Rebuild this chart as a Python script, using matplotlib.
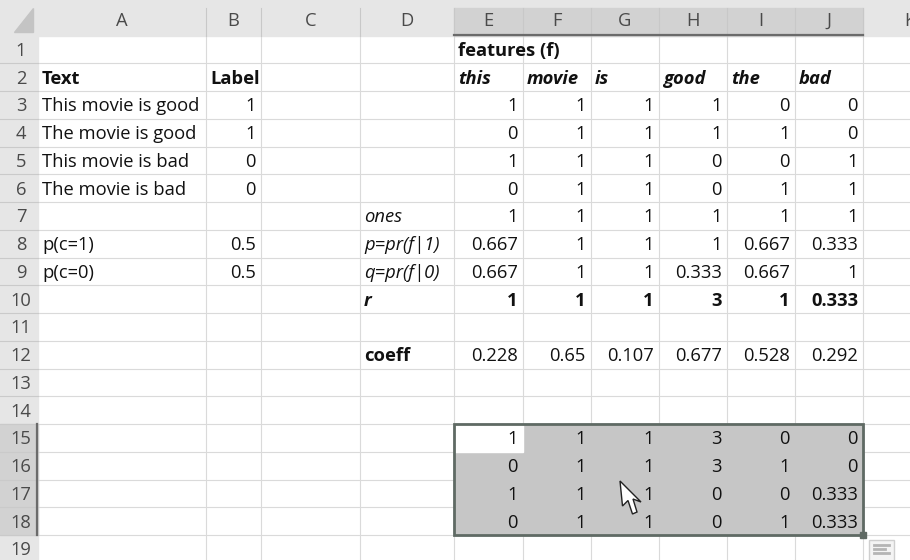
import matplotlib.pyplot as plt
from matplotlib.patches import Rectangle, Polygon

plt.rcParams['font.family'] = ['Open Sans', 'DejaVu Sans']

# sheet contents
col_letters = ["A", "B", "C", "D", "E", "F", "G", "H", "I", "J", "K"]
texts = ["This movie is good", "The movie is good", "This movie is bad", "The movie is bad"]
labels = [1, 1, 0, 0]
features = ["this", "movie", "is", "good", "the", "bad"]
doc_term = [
    [1, 1, 1, 1, 0, 0],
    [0, 1, 1, 1, 1, 0],
    [1, 1, 1, 0, 0, 1],
    [0, 1, 1, 0, 1, 1],
]
prior_names = ["p(c=1)", "p(c=0)"]
priors = [0.5, 0.5]
ones = [1, 1, 1, 1, 1, 1]
p_vals = [0.667, 1, 1, 1, 0.667, 0.333]
q_vals = [0.667, 1, 1, 0.333, 0.667, 1]
r_vals = [1, 1, 1, 3, 1, 0.333]
coeff = [0.228, 0.65, 0.107, 0.677, 0.528, 0.292]
scaled = [
    [1, 1, 1, 3, 0, 0],
    [0, 1, 1, 3, 1, 0],
    [1, 1, 1, 0, 0, 0.333],
    [0, 1, 1, 0, 1, 0.333],
]

# layout in pixels
col_edges = [38, 206, 261, 360, 454, 523, 591, 659, 727, 795, 863, 960]
row_top = 35.5
row_h = 27.75
n_rows = 19
fs = 13.2

fig = plt.figure(figsize=(9.1, 5.6), dpi=100)
ax = fig.add_axes([0, 0, 1, 1])
ax.set_xlim(0, 910)
ax.set_ylim(560, 0)
ax.axis('off')


def ry(r):
    return row_top + (r - 1) * row_h


def rc(r):
    return ry(r) + row_h / 2 + 1.5


def put(col, row, s, align='left', **kw):
    if align == 'left':
        x = col_edges[col] + 4
    else:
        x = col_edges[col + 1] - 5
    ax.text(x, rc(row), s, ha=align, va='center', fontsize=fs, color='#111111', **kw)


def fmt(v):
    return f"{v:g}"


# header backgrounds
ax.add_patch(Rectangle((0, 0), 910, row_top, color='#e6e6e6', zorder=0))
ax.add_patch(Rectangle((0, 0), col_edges[0], 560, color='#e6e6e6', zorder=0))
ax.add_patch(Rectangle((col_edges[4], 8), col_edges[10] - col_edges[4], row_top - 8,
                       color='#d2d2d2', zorder=1))
ax.add_patch(Rectangle((0, ry(15)), col_edges[0], 4 * row_h, color='#d2d2d2', zorder=1))
ax.plot([col_edges[4], col_edges[10]], [row_top - 1, row_top - 1], color='#6b6b6b', lw=1.6, zorder=3)
ax.plot([col_edges[0] - 1, col_edges[0] - 1], [ry(15), ry(19)], color='#6b6b6b', lw=1.6, zorder=3)
ax.add_patch(Polygon([(33, 8), (33, 32), (14, 32)], color='#c4c4c4', zorder=2))

# grid
for x in col_edges[1:]:
    ax.plot([x, x], [row_top, 560], color='#dadada', lw=0.8, zorder=1)
    ax.plot([x, x], [8, row_top], color='#c8c8c8', lw=0.8, zorder=2)
for r in range(1, n_rows + 1):
    y = ry(r) + row_h
    ax.plot([col_edges[0], 910], [y, y], color='#dadada', lw=0.8, zorder=1)
    ax.plot([0, col_edges[0]], [y, y], color='#cacaca', lw=0.8, zorder=2)

for i, letter in enumerate(col_letters[:-1]):
    cx = (col_edges[i] + col_edges[i + 1]) / 2
    ax.text(cx, 21, letter, ha='center', va='center', fontsize=fs, color='#4a4a4a', zorder=4)
# column K is only partly on screen
ax.text(904, 21, col_letters[-1], ha='left', va='center', fontsize=fs, color='#4a4a4a',
        zorder=4, clip_on=True)
for r in range(1, n_rows + 1):
    ax.text(21, rc(r), str(r), ha='center', va='center', fontsize=fs, color='#4a4a4a', zorder=4)

# selection block
sel_x0, sel_x1 = col_edges[4], col_edges[10]
ax.add_patch(Rectangle((sel_x0, ry(15)), sel_x1 - sel_x0, 4 * row_h, color='#c6c6c6', zorder=2))
ax.add_patch(Rectangle((sel_x0, ry(15)), col_edges[5] - sel_x0, row_h, color='white', zorder=2))
ax.add_patch(Rectangle((sel_x0, ry(15)), sel_x1 - sel_x0, 4 * row_h, fill=False,
                       ec='#5f6a64', lw=2, zorder=5))
ax.add_patch(Rectangle((sel_x1 - 3, ry(19) - 3), 6, 6, color='#5f6a64', zorder=6))
ax.add_patch(Rectangle((869, 540), 25, 22, fc='#f4f4f4', ec='#cfcfcf', lw=1, zorder=6))
for yy, w in [(545, 15), (549, 11), (553, 15)]:
    ax.plot([874, 874 + w], [yy, yy], color='#b5b5b5', lw=2, zorder=7)

# column A/B
put(0, 2, "Text", weight='bold')
put(1, 2, "Label", weight='bold')
for i, (t, lab) in enumerate(zip(texts, labels)):
    put(0, 3 + i, t)
    put(1, 3 + i, fmt(lab), align='right')
for i, (n, v) in enumerate(zip(prior_names, priors)):
    put(0, 8 + i, n)
    put(1, 8 + i, fmt(v), align='right')

# column D labels
put(3, 7, "ones", style='italic')
put(3, 8, "p=pr(f|1)", style='italic')
put(3, 9, "q=pr(f|0)", style='italic')
put(3, 10, "r", style='italic', weight='bold')
put(3, 12, "coeff", weight='bold')

# features
put(4, 1, "features (f)", weight='bold')
for j, f in enumerate(features):
    c = 4 + j
    put(c, 2, f, style='italic', weight='bold')
    for i in range(4):
        put(c, 3 + i, fmt(doc_term[i][j]), align='right')
    put(c, 7, fmt(ones[j]), align='right')
    put(c, 8, fmt(p_vals[j]), align='right')
    put(c, 9, fmt(q_vals[j]), align='right')
    put(c, 10, fmt(r_vals[j]), align='right', weight='bold')
    put(c, 12, fmt(coeff[j]), align='right')
    for i in range(4):
        ax.text(col_edges[c + 1] - 5, rc(15 + i), fmt(scaled[i][j]), ha='right', va='center',
                fontsize=fs, color='#111111', zorder=6)

# mouse pointer
ax.add_patch(Polygon([(620, 481), (622.5, 506), (628, 500.5), (632.5, 514), (637, 512),
                      (633, 499), (641, 502)], closed=True, fc='white', ec='#222222', lw=1, zorder=8))

fig.savefig('out.png', dpi=100)
